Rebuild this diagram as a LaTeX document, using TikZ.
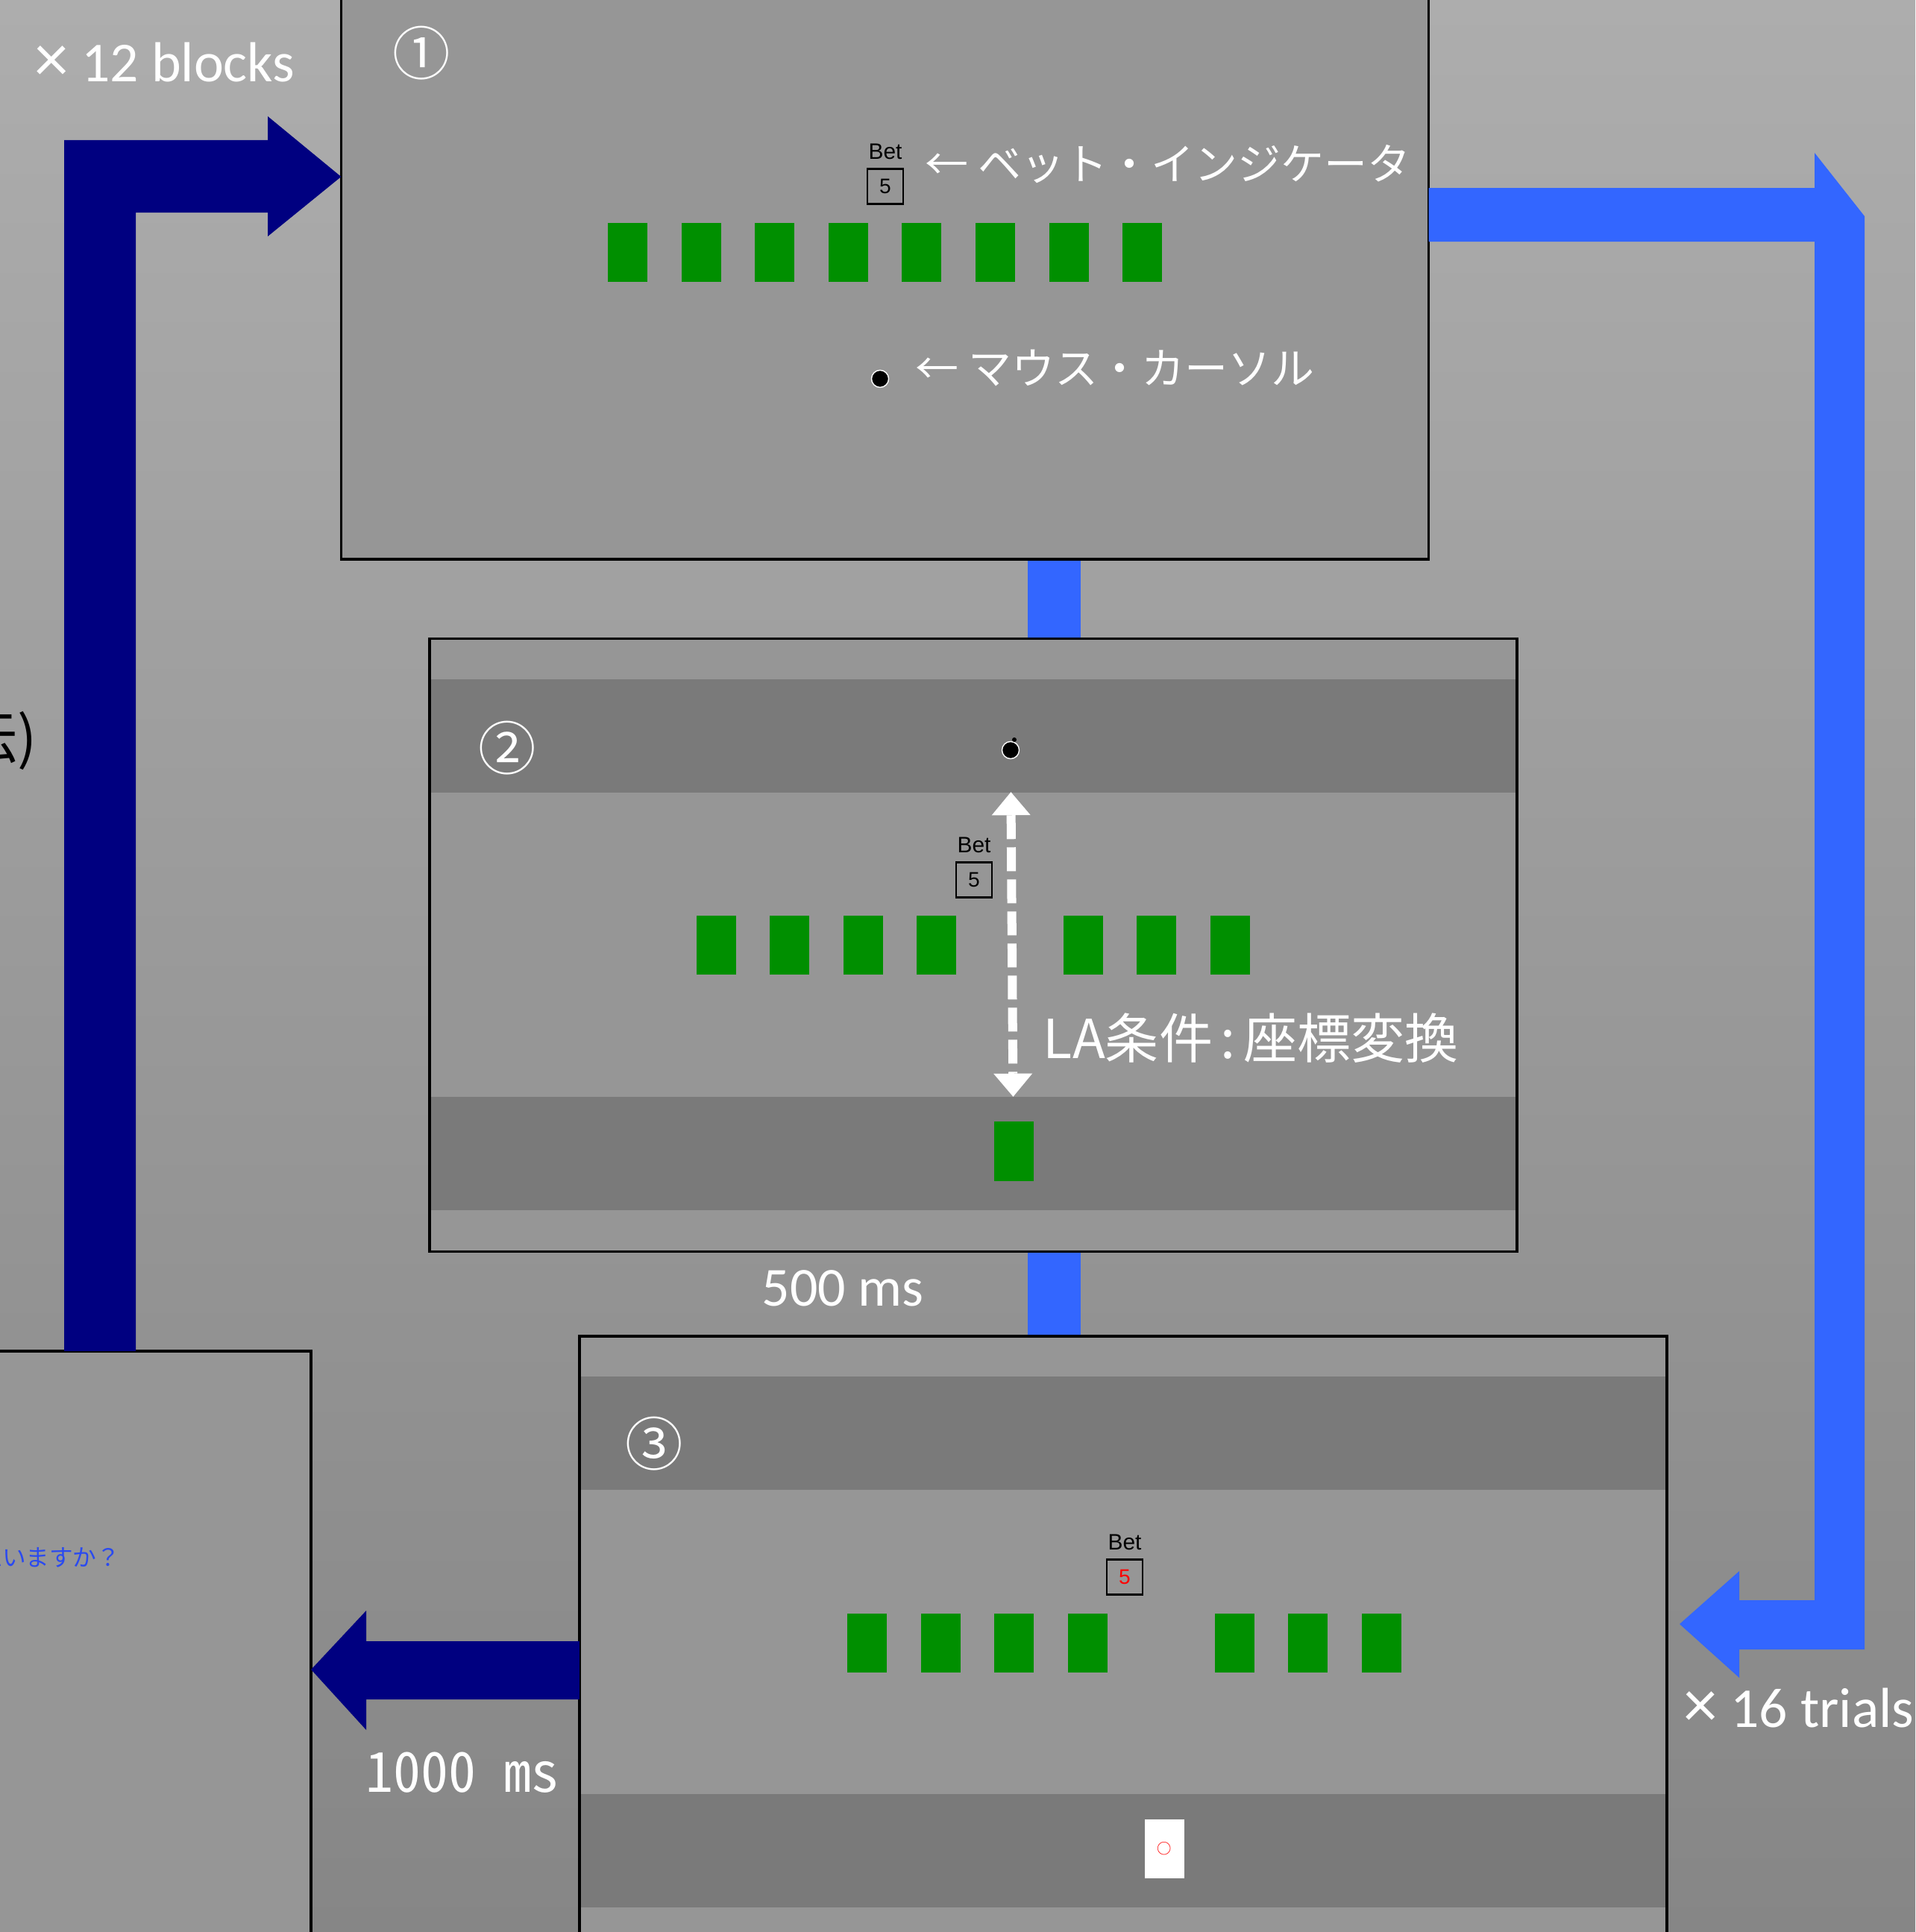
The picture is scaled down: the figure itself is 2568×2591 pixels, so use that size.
\documentclass[tikz,border=0pt]{standalone}
\usepackage{fontspec}
\setmainfont{Carlito}
\newfontfamily\jpfont{Noto Sans CJK JP}
\newfontfamily\jphalf[RawFeature=+hwid]{Noto Sans CJK JP}
\newfontfamily\betfont{Liberation Sans}
\usepackage{xcolor}
\usepackage{tikz}
\usetikzlibrary{positioning, calc, arrows.meta}
\definecolor{bgtop}  {HTML}{ADADAD}
\definecolor{bgmid}  {HTML}{9E9E9E}
\definecolor{bgbot}  {HTML}{868686}
\definecolor{scrfill}{HTML}{969696}
\definecolor{scrband}{HTML}{7A7A7A}
\definecolor{cardgrn}{HTML}{008F00}
\definecolor{trialbl}{HTML}{3366FF}
\definecolor{blocknv}{HTML}{000080}
\definecolor{askblue}{HTML}{2A4AF0}
\newcommand\timesmark{{\fontsize{26}{26}\selectfont ×}}

\tikzset{
  screen/.style={fill=scrfill, minimum width=14.56cm, minimum height=8.2cm, inner sep=0pt},
  frame/.style={draw=black, line width=1pt},
  band/.style={fill=scrband},
  card/.style={fill=cardgrn, minimum width=0.53cm, minimum height=0.79cm, inner sep=0pt},
  betbox/.style={draw=black, line width=0.6pt, minimum width=0.48cm, minimum height=0.47cm,
                 inner sep=0pt, font=\betfont\fontsize{8}{8}\selectfont},
  betlbl/.style={inner sep=0pt, font=\betfont\fontsize{8.5}{9}\selectfont},
  cursor/.style={circle, fill=black, draw=white, line width=0.4pt, minimum size=0.23cm, inner sep=0pt},
  numlbl/.style={text=white, inner sep=0pt, font=\jpfont\fontsize{22}{24}\selectfont},
  note/.style={text=white, anchor=west, inner sep=0pt, font=\jpfont\fontsize{16.5}{18}\selectfont},
  loopcount/.style={text=white, anchor=west, inner sep=0pt, font=\fontsize{21.5}{24}\selectfont},
  remap/.style={white, line width=0.12cm, dash pattern=on 0.32cm off 0.11cm,
                {Triangle[length=0.31cm, width=0.52cm, line width=0pt]}-{Triangle[length=0.31cm, width=0.52cm, line width=0pt]}},
}

\begin{document}
\begin{tikzpicture}[x=0.01cm, y=-0.01cm]
  \useasboundingbox (0,0) rectangle (2568,2591);
  \clip (0,0) rectangle (2568,2591);
  \shade[top color=bgtop, middle color=bgmid, bottom color=bgbot] (0,0) rectangle (2568,2591);

  \node[screen] (s0) at (-312,2223) {};
  \node[screen] (s1) at (1186.5,339) {};
  \node[screen] (s2) at (1305,1267.5) {};
  \node[screen] (s3) at (1506,2203) {};

  \foreach \s in {s2,s3} {
    \fill[band] ($(\s.north west)+(0,54)$) rectangle ($(\s.north east)+(0,206)$);
    \fill[band] ($(\s.north west)+(0,614)$) rectangle ($(\s.north east)+(0,766)$);
  }

  \coordinate (link) at (1413.5,0);
  \draw[trialbl, line width=0.71cm] (link |- s1.south) -- (link |- s2.north);
  \draw[trialbl, line width=0.71cm] (link |- s2.south) -- (link |- s3.north);

  \foreach \s in {s0,s1,s2,s3}
    \draw[frame] (\s.north west) rectangle (\s.south east);

  \fill[blocknv] (86,0 |- s0.north) -- (86,188) -- (359,188) -- (359,156)
    -- (s1.west |- 0,237) -- (359,317) -- (359,285) -- (182,285) -- (182,0 |- s0.north) -- cycle;
  \fill[blocknv] (s3.west |- 0,2201) -- (491,2201) -- (491,2160) -- (s0.east |- 0,2239)
    -- (491,2320) -- (491,2279) -- (s3.west |- 0,2279) -- cycle;
  \fill[trialbl] (s1.east |- 0,252) -- (2433,252) -- (2433,205) -- (2500,290) -- (2500,2212)
    -- (2332,2212) -- (2332,2250) -- (2252,2178) -- (2332,2107) -- (2332,2146)
    -- (2433,2146) -- (2433,324) -- (s1.east |- 0,324) -- cycle;

  \foreach \i in {0,...,7}
    \node[card] (a\i) at (841.5+98.6*\i, 338.5) {};
  \foreach \i in {0,1,2,3,5,6,7} {
    \node[card] (b\i) at (960.5+98.4*\i, 1267.5) {};
    \node[card] (c\i) at (1162.5+98.5*\i, 2203.5) {};
  }
  \node[card] (b4) at (1359,1544) {};
  \node[card, fill=white, text=red, font=\jpfont\fontsize{5.5}{6}\selectfont] (c4) at (1561.5,2479.5) {○};

  \node[betbox] (bet1) at (1187,250) {5};
  \node[betlbl, above=3pt of bet1] (betl1) {Bet};
  \node[betbox] (bet2) at (1306,1180) {5};
  \node[betlbl, above=3pt of bet2] (betl2) {Bet};
  \node[betbox, text=red] (bet3) at (1508,2115) {5};
  \node[betlbl, above=3pt of bet3] (betl3) {Bet};

  \node[cursor] (mouse1) at (1180,508) {};
  \node[cursor] (mouse2) at (1355,1006) {};
  \node[circle, fill=black, minimum size=0.06cm, inner sep=0pt] (mouse2tip) at (1360,992) {};
  \draw[remap, shorten <=0.44cm, shorten >=0.33cm] (mouse2) -- (b4);

  \node[note] (betnote) at (1240,220) {← ベット・インジケータ};
  \node[note] (mousenote) at (1227,494) {← マウス・カーソル};
  \node[note, font=\jpfont\fontsize{20.5}{22}\selectfont] (lanote) at (1398,1392) {LA条件\hspace{0.15em}:\hspace{0.15em}座標変換};

  \node[numlbl] (num1) at (565,71) {①};
  \node[numlbl] (num2) at (680,1003) {②};
  \node[numlbl] (num3) at (877,1936) {③};

  \node[loopcount] (blocks) at (46,84) {\timesmark\ 12 blocks};
  \node[loopcount] (trials) at (2257,2290) {\timesmark\ 16 trials};
  \node[text=white, anchor=west, inner sep=0pt, font=\fontsize{21}{22}\selectfont] (isi) at (1021,1728) {500 ms};
  \node[text=white, anchor=west, inner sep=0pt, font=\jphalf\fontsize{21}{22}\selectfont] (iti) at (490,2377) {1000 ms};
  \node[anchor=east, inner sep=0pt, font=\jpfont\fontsize{22}{24}\selectfont] (cond) at (50,993) {伝)};
  \node[anchor=east, inner sep=0pt, text=askblue, font=\jpfont\fontsize{9}{10}\selectfont] (ask) at (162,2089) {思いますか？};
\end{tikzpicture}
\end{document}
